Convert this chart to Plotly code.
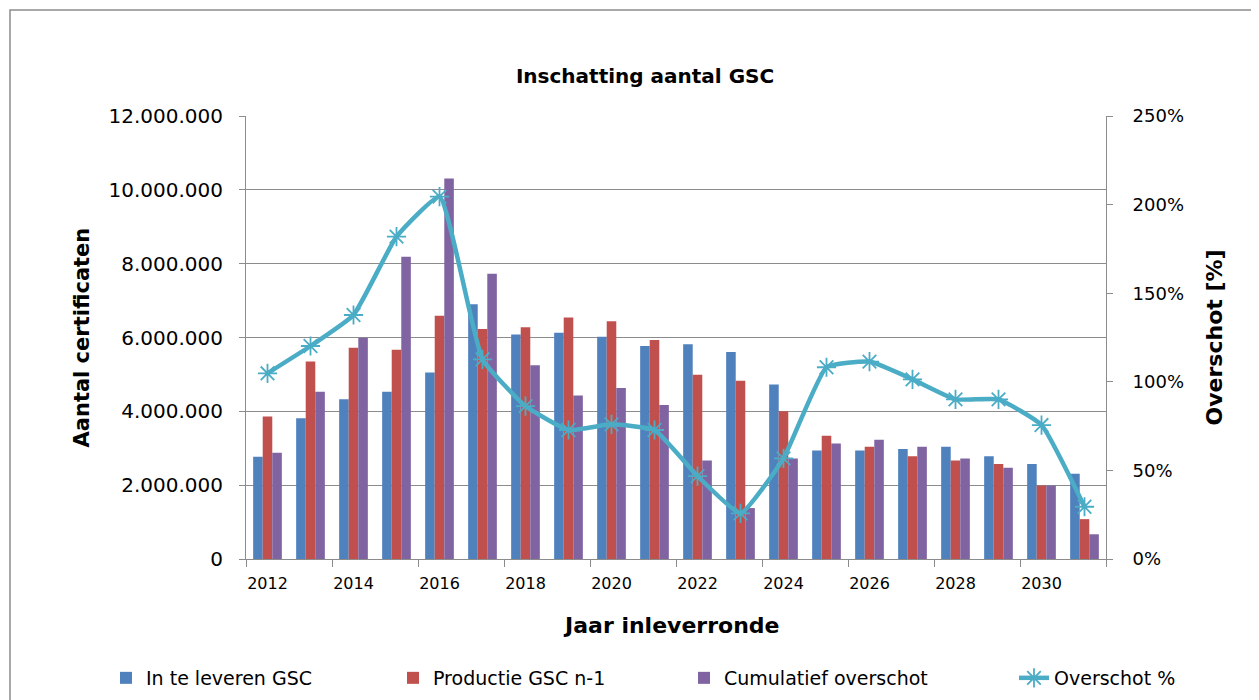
import plotly.graph_objects as go

years = [str(y) for y in range(2012, 2032)]
in_te_leveren = [2.77, 3.81, 4.33, 4.53, 5.05, 6.90, 6.08, 6.13, 6.02, 5.77,
                 5.82, 5.61, 4.73, 2.94, 2.94, 2.98, 3.04, 2.78, 2.57, 2.31]
productie = [3.86, 5.35, 5.72, 5.67, 6.59, 6.23, 6.28, 6.54, 6.44, 5.93,
             4.99, 4.83, 4.00, 3.34, 3.04, 2.78, 2.67, 2.57, 1.99, 1.08]
cumulatief = [2.88, 4.53, 5.99, 8.19, 10.31, 7.73, 5.25, 4.43, 4.63, 4.17,
              2.67, 1.38, 2.72, 3.13, 3.23, 3.04, 2.72, 2.47, 1.99, 0.67]
overschot_pct = [104.8, 120.2, 137.7, 181.9, 204.5, 112.7, 86.3, 72.8, 76.0, 72.8,
                 46.8, 25.8, 56.8, 108.2, 111.4, 101.4, 90.1, 90.1, 75.6, 29.5]

M = 1_000_000
FONT = "DejaVu Sans"
GRID = "#8c8c8c"

fig = go.Figure()
fig.add_trace(go.Bar(x=years, y=[v * M for v in in_te_leveren], name="In te leveren GSC",
                     marker=dict(color="#4F81BD", line=dict(width=0)), legendwidth=242))
fig.add_trace(go.Bar(x=years, y=[v * M for v in productie], name="Productie GSC n-1",
                     marker=dict(color="#C0504D", line=dict(width=0)), legendwidth=246))
fig.add_trace(go.Bar(x=years, y=[v * M for v in cumulatief], name="Cumulatief overschot",
                     marker=dict(color="#8064A2", line=dict(width=0)), legendwidth=285))
fig.add_trace(go.Scatter(x=years, y=overschot_pct, name="Overschot %", yaxis="y2",
                         mode="lines+markers",
                         line=dict(color="#4BACC6", width=4.5, shape="spline", smoothing=0.4),
                         marker=dict(symbol="asterisk-open", size=16, color="#4BACC6",
                                     line=dict(width=1.8, color="#4BACC6")),
                         legendwidth=140))

fig.update_layout(
    width=1251, height=692,
    margin=dict(l=238, r=153, t=108, b=141, autoexpand=False),
    paper_bgcolor="white", plot_bgcolor="white",
    barmode="group", bargap=0.333, bargroupgap=0,
    separators=",.",
    font=dict(family=FONT, color="#000000"),
    title=dict(text="<b>Inschatting aantal GSC</b>", font=dict(family=FONT, size=20),
               x=0.464, xref="paper", xanchor="center", y=1 - 68 / 692, yanchor="middle"),
    xaxis=dict(type="category", range=[-0.5, 19.5], tickson="boundaries", dtick=2,
               ticks="outside", ticklen=7,
               tickcolor=GRID, showline=True, linecolor=GRID, linewidth=1, tickangle=0,
               showgrid=False, tickfont=dict(family=FONT, size=16), ticklabelstandoff=10,
               automargin=False),
    yaxis=dict(range=[0, 12 * M], dtick=2 * M, tickformat=",d", ticks="outside", ticklen=6,
               tickcolor=GRID, showline=True, linecolor=GRID, linewidth=1,
               showgrid=True, gridcolor=GRID, gridwidth=1, zeroline=False,
               tickfont=dict(family=FONT, size=20), ticklabelstandoff=12, automargin=False),
    yaxis2=dict(range=[0, 250], dtick=50, ticksuffix="%", overlaying="y", side="right",
                ticks="outside", ticklen=6, tickcolor=GRID, showline=True, linecolor=GRID,
                linewidth=1, showgrid=False, zeroline=False,
                tickfont=dict(family=FONT, size=18), ticklabelstandoff=16, automargin=False),
    legend=dict(orientation="h", x=(106 - 246) / 860, xanchor="left", y=-0.2686,
                yanchor="middle", font=dict(family=FONT, size=19), traceorder="normal"),
    showlegend=True,
)

fig.add_annotation(text="<b>Aantal certificaten</b>", xref="paper", yref="paper",
                   x=-0.1907, y=0.5, textangle=-90, showarrow=False,
                   font=dict(family=FONT, size=21), xanchor="center", yanchor="middle")
fig.add_annotation(text="<b>Overschot [%]</b>", xref="paper", yref="paper",
                   x=1.1267, y=0.5, textangle=-90, showarrow=False,
                   font=dict(family=FONT, size=22), xanchor="center", yanchor="middle")
fig.add_annotation(text="<b>Jaar inleverronde</b>", xref="paper", yref="paper",
                   x=0.494, y=-0.149, showarrow=False,
                   font=dict(family=FONT, size=22), xanchor="center", yanchor="middle")

fig.add_shape(type="rect", xref="paper", yref="paper",
              x0=(10 - 246) / 860, x1=(1254 - 246) / 860,
              y0=(559 - 705) / 443, y1=(559 - 10) / 443,
              line=dict(color="#8c8c8c", width=1.5), fillcolor="rgba(0,0,0,0)", layer="below")

fig.write_html("out.html")
